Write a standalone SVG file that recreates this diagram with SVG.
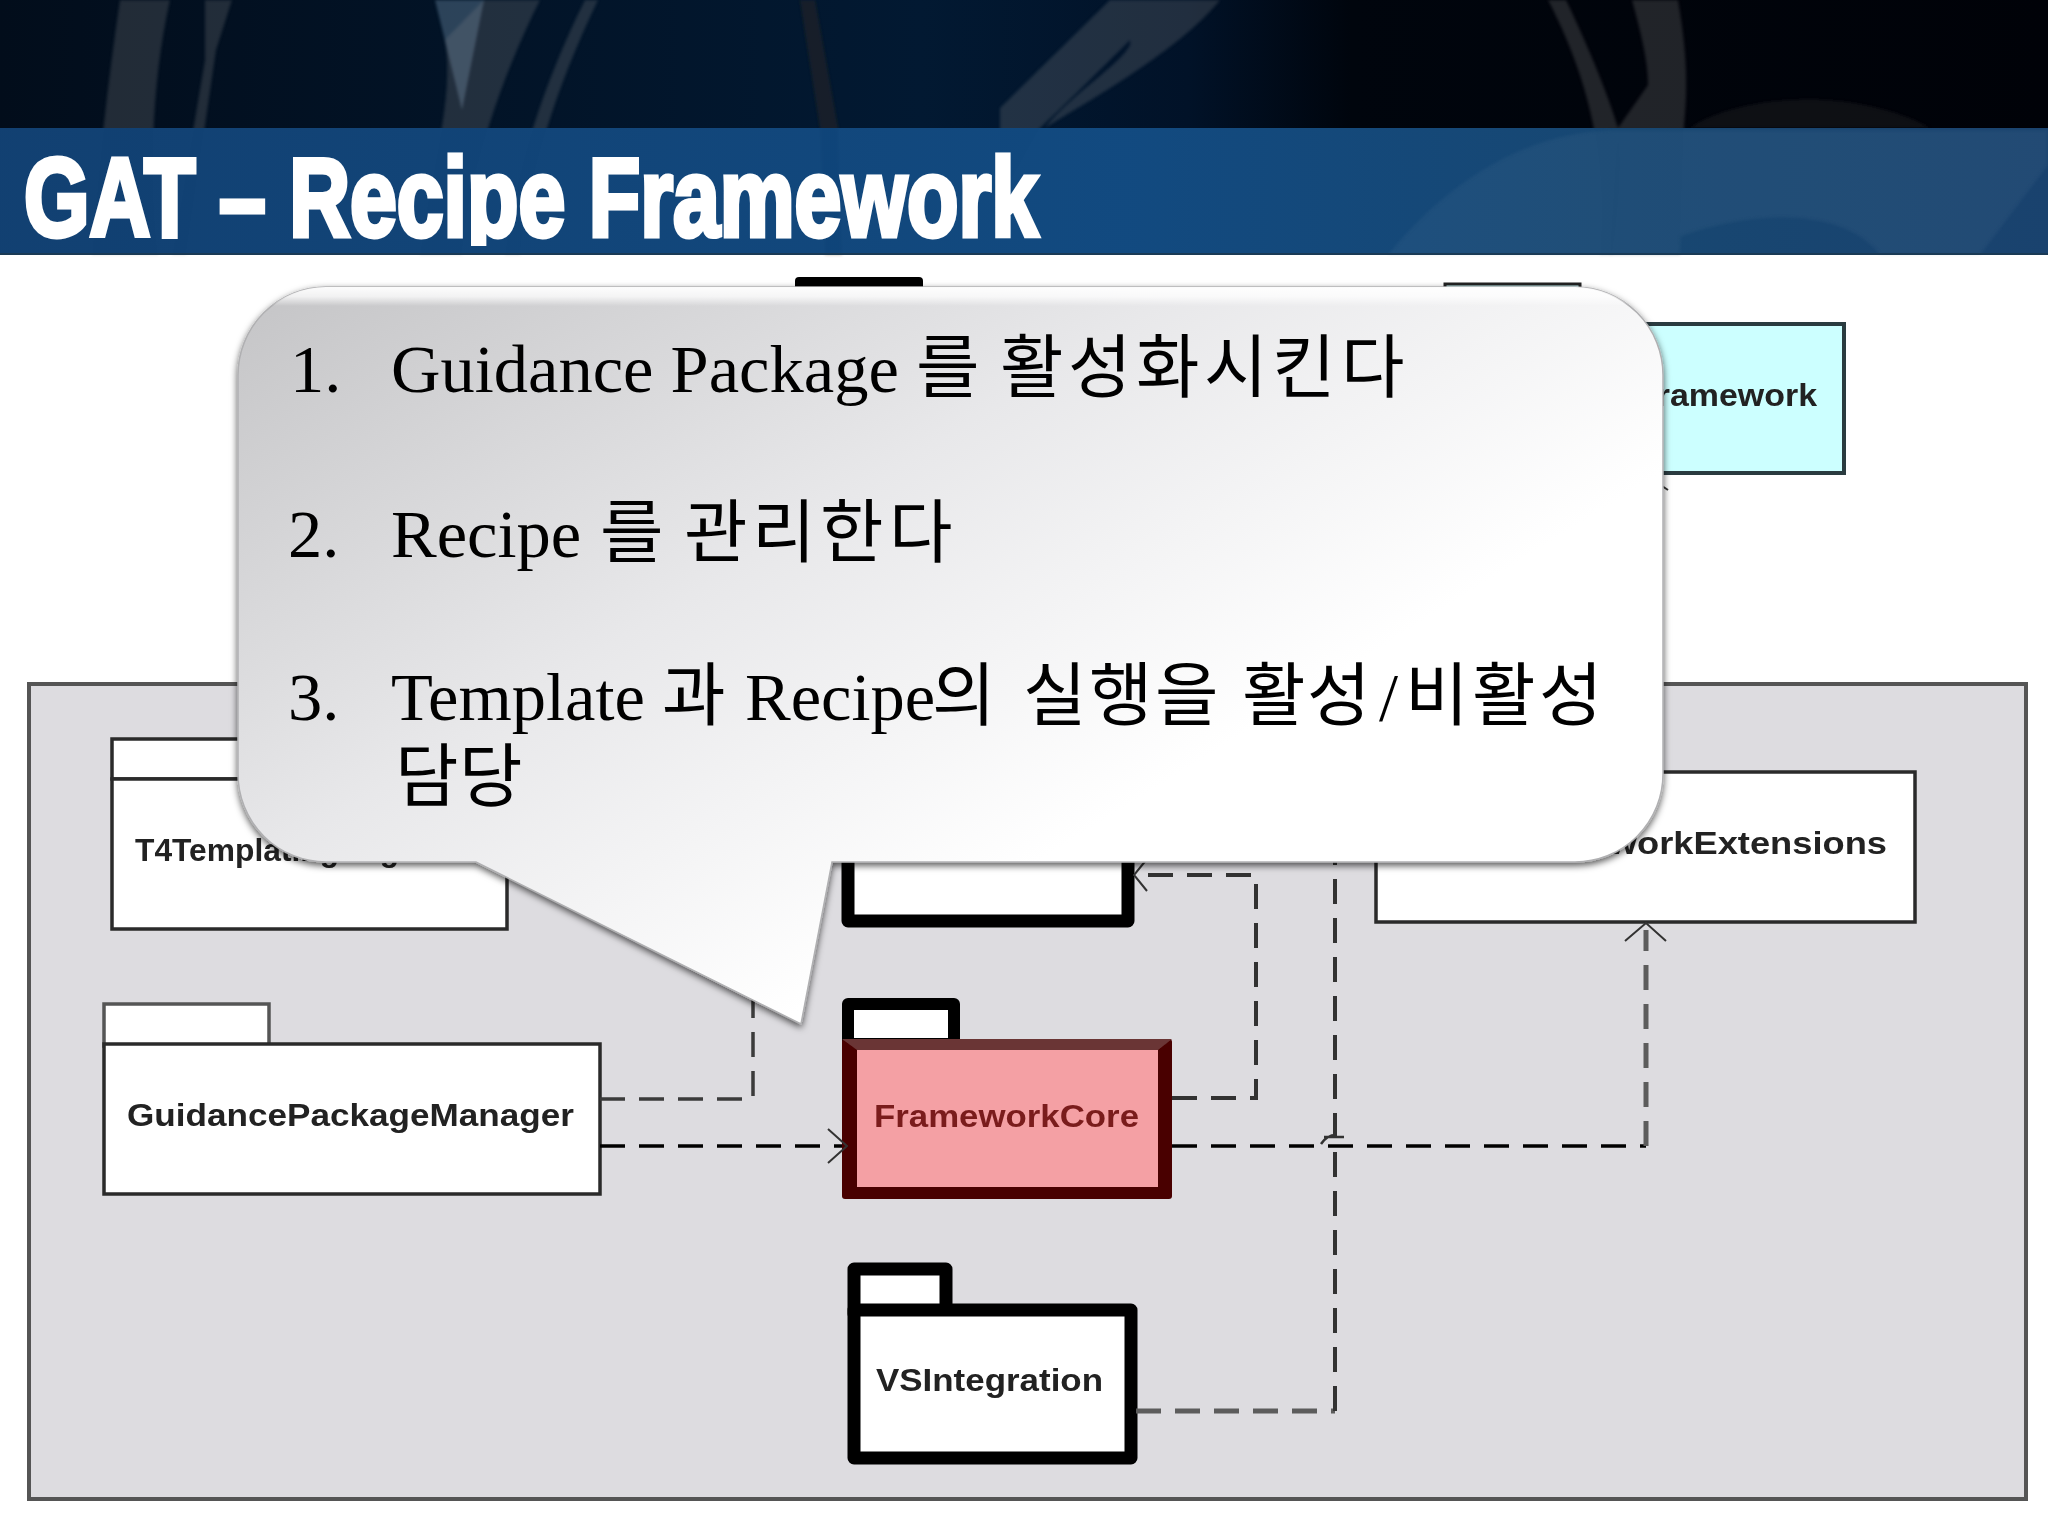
<svg xmlns="http://www.w3.org/2000/svg" width="2048" height="1536" viewBox="0 0 2048 1536">
<style>
.lbl{font-family:"Liberation Sans",Arial,sans-serif;font-weight:700;font-size:32px;fill:#222}
.pkg{fill:#fff;stroke:#2a2a2a;stroke-width:3.5;stroke-linejoin:miter}
.thick{fill:#fff;stroke:#000;stroke-width:13;stroke-linejoin:round}
.dash{fill:none;stroke:#222;stroke-width:3.5;stroke-dasharray:25 14}
.gr{stroke:#5c5c5c;stroke-width:5}
.head{fill:none;stroke:#333;stroke-width:2}
.say{font-family:"Liberation Serif","Noto Sans CJK KR",serif;font-size:68.5px;fill:#000}
.ko{font-family:"Noto Sans CJK KR",sans-serif;font-size:69px;fill:#000}
.st{fill:#8a8a8a;opacity:.24}
</style>
<defs>
<linearGradient id="dark" x1="0" x2="1" y1="0" y2="0"><stop offset="0" stop-color="#020d1b"/><stop offset=".45" stop-color="#021932"/><stop offset=".58" stop-color="#011228"/><stop offset=".66" stop-color="#00050d"/><stop offset="1" stop-color="#000208"/></linearGradient>
<linearGradient id="band" x1="0" x2="1" y1="0" y2="0"><stop offset="0" stop-color="#05366a"/><stop offset=".55" stop-color="#054079"/><stop offset=".8" stop-color="#0b3d6a"/><stop offset="1" stop-color="#0d3866"/></linearGradient>
<linearGradient id="fill" gradientUnits="userSpaceOnUse" x1="238" y1="287" x2="720" y2="1060"><stop offset="0" stop-color="#c4c4c6"/><stop offset=".55" stop-color="#e8e8ea"/><stop offset="1" stop-color="#ffffff"/></linearGradient>
<linearGradient id="gloss" gradientUnits="userSpaceOnUse" x1="0" y1="285" x2="0" y2="306"><stop offset="0" stop-color="#fff" stop-opacity="1"/><stop offset=".55" stop-color="#fff" stop-opacity=".75"/><stop offset="1" stop-color="#fff" stop-opacity="0"/></linearGradient>
<filter id="sh" x="-5%" y="-5%" width="110%" height="110%"><feDropShadow dx="0" dy="3" stdDeviation="3.5" flood-color="#000" flood-opacity=".65"/></filter>
<filter id="soft" x="-5%" y="-5%" width="110%" height="110%"><feGaussianBlur stdDeviation="1.5"/></filter>
<filter id="b" filterUnits="userSpaceOnUse" x="0" y="260" width="2048" height="1276"><feGaussianBlur stdDeviation=".7"/></filter>
<clipPath id="tc"><rect x="0" y="130" width="1100" height="116"/></clipPath>
</defs>

<g id="header">
<rect width="2048" height="128" fill="url(#dark)"/>
<g filter="url(#soft)">
<path class="st" d="M120 0H170C150 90 150 180 158 255H92C98 170 108 80 120 0Z"/>
<path class="st" d="M205 0H232L216 50 186 255H172L205 60Z"/>
<path d="M435 0H484L462 110Z" fill="#6c8ba8" opacity=".4"/>
<path class="st" d="M484 0H540C500 80 470 170 462 255H420C430 170 455 100 445 40Z"/>
<path class="st" d="M585 0H598C555 90 530 170 520 255H505C515 170 545 80 585 0Z"/>
<path d="M800 0H815L838 128 842 255H825L820 128Z" fill="#4a3018" opacity=".3"/>
<path class="st" d="M1110 0H1130V40C1110 60 1070 100 1040 128L1000 200V108Z"/>
<path class="st" d="M1130 0H1220C1180 50 1090 100 1045 128 1070 95 1120 65 1130 45Z"/>
<path class="st" d="M1548 0H1566C1590 50 1610 100 1618 128 1622 170 1618 210 1612 255H1600C1605 180 1600 100 1548 0Z"/>
<path class="st" d="M1632 0H1678C1690 70 1686 100 1684 128L1680 255H1610L1618 128 1648 85C1648 60 1640 30 1632 0Z"/>
<path d="M1690 128C1740 95 1850 85 1930 128Z" fill="#333" opacity=".3"/>
</g>
<rect y="128" width="2048" height="127" fill="url(#band)" opacity=".95"/>
<g filter="url(#soft)" fill="#5a7c9a" opacity=".13">
<path d="M1388 255C1440 190 1520 130 1620 130H2048V165L1980 255H1880C1840 200 1720 210 1640 255Z"/>
<path d="M1610 130H1685L1680 255H1600Z"/>
</g>
<rect y="253" width="2048" height="2" fill="#1a3a55"/>
<text x="24" y="236" font-family="Liberation Sans,Arial,sans-serif" font-weight="700" font-size="112" fill="#fff" stroke="#fff" stroke-width="5" clip-path="url(#tc)" textLength="1014" lengthAdjust="spacingAndGlyphs">GAT – Recipe Framework</text>
</g>

<g id="diagram" filter="url(#b)">
<g id="container"><rect x="29" y="684" width="1997" height="815" fill="#dddce0" stroke="#555" stroke-width="4"/></g>

<g id="node-top"><rect x="795" y="277" width="128" height="40" rx="4" fill="#000"/></g>
<g id="node-recipeframework">
<rect x="1445" y="284" width="135" height="45" fill="#ccffff" stroke="#222" stroke-width="3"/>
<rect x="1400" y="324" width="444" height="149" fill="#ccffff" stroke="#2a3a40" stroke-width="4"/>
<text class="lbl" x="1636" y="406" textLength="181" lengthAdjust="spacingAndGlyphs">Framework</text>
</g>
<g id="node-t4">
<rect class="pkg" x="112" y="739" width="160" height="40"/>
<rect class="pkg" x="112" y="779" width="395" height="150"/>
<text class="lbl" x="135" y="861" textLength="310" lengthAdjust="spacingAndGlyphs">T4TemplatingEngine</text>
</g>
<g id="node-extensions">
<rect class="pkg" x="1376" y="772" width="539" height="150"/>
<text class="lbl" x="1500" y="854" textLength="387" lengthAdjust="spacingAndGlyphs">FrameworkExtensions</text>
</g>
<g id="node-center"><rect class="thick" x="848" y="790" width="280" height="131"/></g>
<g id="node-gpm">
<rect class="pkg" x="104" y="1004" width="165" height="42" style="stroke:#555"/>
<rect class="pkg" x="104" y="1044" width="496" height="150"/>
<text class="lbl" x="127" y="1126" textLength="447" lengthAdjust="spacingAndGlyphs">GuidancePackageManager</text>
</g>
<g id="node-core">
<path d="M848 1004H954V1044H848Z" fill="#fff" stroke="#000" stroke-width="12" stroke-linejoin="round"/>
<rect x="842" y="1039" width="330" height="160" rx="3" fill="#4a0000"/>
<path d="M842 1039H1172L1158 1050H857Z" fill="#6b3535"/>
<rect x="857" y="1050" width="301" height="137" fill="#f4a0a4"/>
<text class="lbl" x="874" y="1127" textLength="265" lengthAdjust="spacingAndGlyphs" style="fill:#7a1c1c">FrameworkCore</text>
</g>
<g id="node-vs">
<rect class="thick" x="854" y="1269" width="92" height="45"/>
<rect class="thick" x="854" y="1310" width="277" height="148"/>
<text class="lbl" x="876" y="1391" textLength="227" lengthAdjust="spacingAndGlyphs">VSIntegration</text>
</g>

<g id="connectors">
<path class="dash" d="M600 1099H753V980" style="stroke:#3a3a3a"/>
<path class="dash" d="M600 1146H842" style="stroke:#000"/>
<path class="head" d="M828 1129L847 1146 828 1163"/>
<path class="dash" d="M1172 1098H1256V875H1134" style="stroke:#333;stroke-width:4"/>
<path class="head" d="M1147 891L1134 875 1147 859"/>
<path class="dash" d="M1172 1146H1646" style="stroke:#000"/>
<path class="dash gr" d="M1646 1146V930"/>
<path class="head" d="M1625 941L1646 923 1666 941"/>
<path class="dash gr" d="M1136 1411H1335" />
<path class="dash" d="M1335 1411V850" style="stroke:#333;stroke-width:4"/>
<path class="head" d="M1321 1144C1325 1138 1330 1135 1336 1135M1324 1137H1344" style="stroke-width:2.5"/>
<path class="head" d="M1662 486L1668 490"/>
</g>
</g>

<g id="callout">
<path d="M326 287H1575A88 88 0 0 1 1663 375V774A88 88 0 0 1 1575 862H832L801 1024 476 862H326A88 88 0 0 1 238 774V375A88 88 0 0 1 326 287Z" fill="url(#fill)" stroke="#b0b0b2" stroke-width="1.5" filter="url(#sh)"/>
<path d="M326 287H1575A88 88 0 0 1 1663 375V400H238V375A88 88 0 0 1 326 287Z" fill="url(#gloss)"/>
<text class="say" x="290" y="392">1.</text>
<text class="say" x="391" y="392">Guidance Package</text>
<text class="ko" y="392"><tspan x="916">를</tspan><tspan x="1000 1068 1136 1204 1272 1341">활성화시킨다</tspan></text>
<text class="say" x="288" y="557">2.</text>
<text class="say" x="391" y="557">Recipe</text>
<text class="ko" y="557"><tspan x="600">를</tspan><tspan x="684 752 820 889">관리한다</tspan></text>
<text class="say" x="288" y="720">3.</text>
<text class="say" x="391" y="720">Template</text>
<text class="ko" y="720"><tspan x="662">과</tspan></text>
<text class="say" x="745" y="720">Recipe</text>
<text class="ko" y="720"><tspan x="932">의</tspan><tspan x="1023 1089 1155">실행을</tspan><tspan x="1242 1307">활성</tspan></text>
<text class="say" x="1379" y="720">/</text>
<text class="ko" y="720"><tspan x="1405 1472 1539">비활성</tspan></text>
<text class="ko" y="801"><tspan x="395 459">담당</tspan></text>
</g>
</svg>
